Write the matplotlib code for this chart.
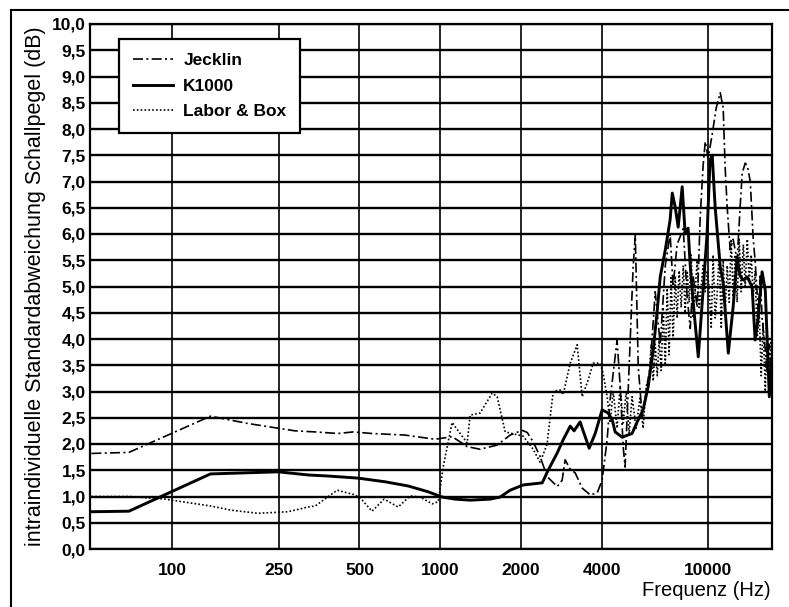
import matplotlib
matplotlib.use('Agg')
from matplotlib import pyplot as plt
from matplotlib.lines import Line2D
import numpy as np

plt.rcParams['font.family'] = ['Liberation Sans', 'DejaVu Sans']

# Frequenz (Hz) / Standardabweichung (dB)
jecklin_f = [50, 69, 139, 192, 249, 288, 342, 416, 473, 557, 740, 958, 1108, 1188, 1261,
             1410, 1632, 1825, 2023, 2113, 2223, 2361, 2506, 2734, 2852, 2926, 3057, 3190,
             3388, 3630, 3855, 4020, 4198, 4305, 4572, 4697, 4819, 4898, 5248, 5346, 5483,
             5675, 6081, 6343, 6622, 6918, 7211, 7397, 7656, 8072, 8349, 8570, 8790, 9098,
             9333, 9572, 9750, 10000, 10351, 10712, 11092, 11376, 11561, 11776, 12078,
             12388, 12823, 13152, 13397, 13740, 13996, 14355, 14723, 14962, 15382, 15631,
             15888, 16330, 16596, 16904, 17338]
jecklin_v = [1.82, 1.84, 2.53, 2.39, 2.30, 2.25, 2.23, 2.20, 2.23, 2.20, 2.17, 2.09, 2.14, 2.04, 1.95,
             1.90, 1.98, 2.17, 2.26, 2.22, 2.04, 1.76, 1.38, 1.19, 1.31, 1.70, 1.52, 1.45,
             1.16, 1.03, 1.07, 1.31, 2.08, 2.84, 3.98, 3.09, 1.94, 1.56, 5.37, 5.98, 3.47,
             2.51, 3.50, 4.90, 3.90, 5.40, 6.00, 5.00, 5.80, 6.10, 4.80, 4.20, 5.20, 4.60,
             6.30, 7.30, 7.76, 7.45, 7.90, 8.40, 8.69, 8.40, 7.30, 6.50,
             5.70, 5.90, 5.50, 6.50, 7.16, 7.35, 7.30, 7.00, 5.90, 5.50, 4.50, 5.20,
             4.40, 3.80, 3.35, 3.90, 3.00]

k1000_f = [50, 69, 139, 249, 322, 382, 494, 624, 760, 902, 1017, 1137, 1294, 1537, 1675,
           1825, 2041, 2403, 2529, 2734, 2877, 3057, 3160, 3327, 3597, 3788, 4020, 4236,
           4385, 4498, 4775, 5200, 5433, 5715, 5970, 6237, 6457, 6622, 6918, 7211, 7345,
           7534, 7727, 7998, 8203, 8414, 8570, 8790, 9183, 9572, 9908, 10162, 10351, 10617,
           11092, 11376, 11885, 12388, 12823, 13152, 13521, 13996, 14588, 14962, 15382,
           15888, 16330, 16596, 16904, 17338]
k1000_v = [0.71, 0.72, 1.43, 1.47, 1.41, 1.39, 1.35, 1.28, 1.20, 1.09, 0.99, 0.95, 0.93, 0.95, 0.99,
           1.12, 1.22, 1.26, 1.50, 1.83, 2.08, 2.34, 2.25, 2.42, 1.92, 2.20, 2.65, 2.59,
           2.46, 2.23, 2.13, 2.20, 2.42, 2.65, 3.09, 3.79, 4.55, 5.18, 5.70, 6.27, 6.78,
           6.51, 6.13, 6.90, 6.02, 6.11, 5.40, 4.70, 3.66, 4.93, 6.02, 7.41, 7.50, 6.51,
           5.37, 5.07, 3.73, 4.61, 5.56, 5.20, 5.12, 5.18, 4.99, 3.98, 4.42,
           5.28, 4.93, 3.98, 2.90, 3.66]

labor_f = [50, 69, 94, 139, 166, 209, 271, 322, 342, 413, 482, 512, 557, 618, 697, 773,
           842, 934, 984, 1026, 1108, 1261, 1294, 1410, 1564, 1632, 1749, 2041, 2223, 2361,
           2506, 2641, 2804, 2877, 3057, 3245, 3388, 3566, 3725, 3953, 4055, 4198, 4305,
           4424, 4572, 4697, 4819, 4943, 5071, 5200, 5383, 5572, 5715, 5870, 6024, 6129,
           6237, 6343, 6457, 6560, 6680, 6796, 6918, 7031, 7148, 7272, 7397, 7534, 7656,
           7793, 7929, 8072, 8203, 8349, 8496, 8641, 8790, 8933, 9098, 9253, 9419, 9572,
           9750, 9908, 10081, 10261, 10435, 10617, 10813, 10995, 11187, 11376, 11561,
           11776, 11980, 12180, 12388, 12618, 12823, 13052, 13280, 13521, 13740, 13996,
           14225, 14467, 14723, 14962, 15241, 15488, 15770, 16032, 16330, 16596, 16904,
           17180, 17338]
labor_v = [1.00, 1.00, 0.95, 0.82, 0.74, 0.68, 0.71, 0.80, 0.82, 1.12, 1.03, 0.93, 0.72, 0.95, 0.80, 1.01,
           0.99, 0.86, 0.90, 1.56, 2.41, 2.02, 2.55, 2.59, 2.97, 2.90, 2.23, 2.15, 1.90, 1.65,
           2.00, 3.00, 3.03, 2.94, 3.54, 3.89, 2.90, 3.22, 3.54, 3.54, 3.35, 2.90, 2.40,
           3.00, 2.30, 3.10, 2.40, 3.00, 2.20, 2.90, 2.30, 2.90, 2.30, 3.10, 3.30, 3.90,
           3.20, 3.90, 3.30, 4.00, 3.40, 4.60, 3.50, 5.00, 3.70, 5.20, 4.00, 5.20, 4.40,
           5.30, 4.60, 5.40, 4.50, 5.30, 4.70, 5.60, 4.40, 4.90, 5.50, 4.60, 5.00, 5.40,
           4.90, 5.30, 5.00, 4.20, 5.60, 4.40, 4.90, 5.70, 4.20, 5.50, 4.50,
           5.40, 4.70, 5.90, 4.80, 5.60, 4.70, 5.90, 4.90, 5.80, 5.00, 5.90,
           5.10, 5.60, 4.80, 5.30, 4.00, 4.60, 3.30, 4.30, 3.00, 4.20, 3.30,
           4.00, 3.60]

x_ticks = [100, 250, 500, 1000, 2000, 4000, 10000]
y_ticks = np.arange(0, 10.01, 0.5)

fig = plt.figure(figsize=(7.89, 6.07), dpi=100)
ax = fig.add_axes([90 / 789, 58 / 607, 682 / 789, 525 / 607])

ax.plot(jecklin_f, jecklin_v, color='black', lw=1.2, ls=(0, (6, 2, 1.2, 2)), label='Jecklin')
ax.plot(k1000_f, k1000_v, color='black', lw=2.1, ls='-', label='K1000')
ax.plot(labor_f, labor_v, color='black', lw=1.2, ls=(0, (1, 1.3)), label='Labor & Box')

ax.set_xscale('log')
ax.set_xlim(49.4, 17300)
ax.set_ylim(0, 10)
ax.set_xticks(x_ticks)
ax.set_xticklabels([str(t) for t in x_ticks], fontweight='bold')
ax.xaxis.set_minor_locator(matplotlib.ticker.NullLocator())
ax.set_yticks(y_ticks)
ax.set_yticklabels([f'{v:.1f}'.replace('.', ',') for v in y_ticks], fontweight='bold')
ax.tick_params(axis='both', length=0, labelsize=12.5)
ax.tick_params(axis='x', pad=10)
ax.tick_params(axis='y', pad=3)

ax.grid(axis='y', color='black', lw=1.7)
ax.grid(axis='x', color='black', lw=1.2)
ax.set_axisbelow(True)
for s in ax.spines.values():
    s.set_linewidth(1.6)

ax.set_ylabel('intraindividuelle Standardabweichung Schallpegel (dB)', fontsize=15.5, labelpad=4)
fig.text(771 / 789, 1 - 590 / 607, 'Frequenz (Hz)', fontsize=14.5, ha='right', va='center')

leg = ax.legend(loc='upper left', bbox_to_anchor=(29 / 682, 510 / 525), borderaxespad=0,
                prop={'size': 12.5, 'weight': 'bold'}, frameon=True, fancybox=False,
                handlelength=2.3, handletextpad=0.6, labelspacing=0.6, borderpad=0.8)
leg.get_frame().set_edgecolor('black')
leg.get_frame().set_linewidth(1.6)
leg.get_frame().set_alpha(1)

# scan frame around the figure
fig.add_artist(Line2D([11 / 789, 1], [1 - 10 / 607, 1 - 10 / 607], transform=fig.transFigure, color='black', lw=1.5))
fig.add_artist(Line2D([11 / 789, 11 / 789], [0, 1 - 10 / 607], transform=fig.transFigure, color='black', lw=1.5))

fig.savefig('out.png', dpi=100)
